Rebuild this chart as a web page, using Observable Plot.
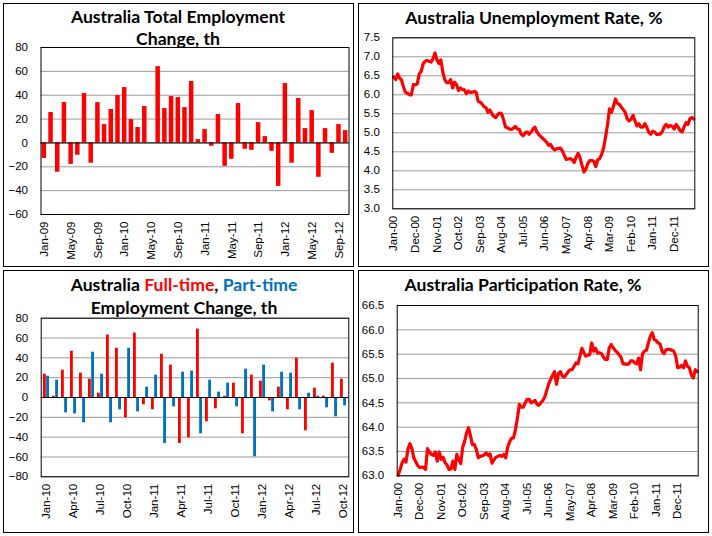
<!DOCTYPE html>
<html><head><meta charset="utf-8">
<script src="https://cdn.jsdelivr.net/npm/d3@7"></script>
<script src="https://cdn.jsdelivr.net/npm/@observablehq/plot@0.6"></script>
<style>
body{margin:0;background:#fff;}
#root{position:relative;width:712px;height:536px;overflow:hidden;background:#fff;}
.box{position:absolute;border:1px solid #000;box-sizing:border-box;}
.chart{position:absolute;}
.title{position:absolute;width:400px;text-align:center;font:bold 17.6px Lato, "Open Sans", sans-serif;line-height:22px;color:#000;white-space:nowrap;}
</style></head>
<body><div id="root"></div>
<script>
// ---------- DATA ----------
// Total employment change, th (Jan-09 .. Oct-12)
const totalEmpChange = [-13, 25.5, -24.6, 33.8, -18, -10.3, 41.4, -17, 33.8, 15.4, 28, 39.7,
  46.4, 19.6, 12.9, 30.5, 0, 64, 28.8, 38.9, 38, 29.6, 51.5, 2.8,
  11.2, -2.8, 23.8, -19.6, -13.7, 33, -5.3, -6.2, 17, 5.3, -7, -36.4,
  49.8, -17, 37.2, 12, 27.1, -28.8, 12, -8.7, 15.4, 10.3];
const totalTickLabels = ["Jan-09","May-09","Sep-09","Jan-10","May-10","Sep-10","Jan-11","May-11","Sep-11","Jan-12","May-12","Sep-12"];
const totalYTicks = [-60,-40,-20,0,20,40,60,80];

// Full-time / part-time employment change, th (Jan-10 .. Oct-12)
const fullTimeChange = [23.5, 1.3, 27.6, 46.7, 24.5, 18.5, 4.4, 63, 49.7, -20.5, 65, -7.4,
  -12.4, 43.7, 32.6, -46.4, -40.7, 69, -24.5, -11.4, 1.3, 14.5, -36.6, 22.5,
  16.5, -3.4, 10.4, -12.4, 39.7, -33.6, 9.4, 1.3, 34.6, 18.5];
const partTimeChange = [21.5, 17.5, -15.5, -16.5, -25.5, 45.7, 23.5, -25.5, -12.4, 49.7, -14.5, 10.4,
  22.5, -46.4, -9.4, 25.5, 26.6, -36.6, 17.5, 5.4, 14.5, -9.4, 28.6, -59.8,
  32.6, -14.5, 25.5, 24.5, -12.4, 4.4, 1.3, -10.4, -19.5, -8.4];
const ftptTickLabels = ["Jan-10","Apr-10","Jul-10","Oct-10","Jan-11","Apr-11","Jul-11","Oct-11","Jan-12","Apr-12","Jul-12","Oct-12"];
const ftptYTicks = [-80,-60,-40,-20,0,20,40,60,80];

// Unemployment rate, % (Jan-00 .. Oct-12)
const unemploymentRate = [
  6.47, 6.4, 6.55, 6.44, 6.38, 6.2, 6.06, 6.04, 6.0, 6.0,
  6.27, 6.26, 6.29, 6.55, 6.62, 6.82, 6.88, 6.9, 6.88, 6.86,
  6.95, 7.1, 6.92, 6.82, 6.92, 6.6, 6.4, 6.32, 6.32, 6.4,
  6.18, 6.33, 6.27, 6.11, 6.18, 6.14, 6.13, 6.03, 6.1, 6.06,
  6.07, 6.09, 6.07, 5.83, 5.81, 5.76, 5.69, 5.66, 5.54, 5.6,
  5.5, 5.43, 5.4, 5.48, 5.52, 5.5, 5.34, 5.15, 5.13, 5.1,
  5.09, 5.12, 5.17, 5.1, 5.09, 4.96, 4.92, 5.0, 5.02, 4.96,
  5.02, 5.1, 5.15, 5.02, 4.95, 4.9, 4.85, 4.8, 4.75, 4.67,
  4.69, 4.6, 4.55, 4.58, 4.59, 4.6, 4.52, 4.4, 4.3, 4.31,
  4.32, 4.29, 4.22, 4.36, 4.46, 4.34, 4.14, 3.97, 4.05, 4.2,
  4.27, 4.27, 4.25, 4.11, 4.29, 4.32, 4.43, 4.6, 4.89, 5.22,
  5.63, 5.54, 5.69, 5.89, 5.78, 5.75, 5.68, 5.61, 5.54, 5.37,
  5.31, 5.36, 5.46, 5.31, 5.18, 5.24, 5.15, 5.15, 5.24, 5.15,
  5.02, 4.96, 5.04, 5.02, 4.96, 4.96, 4.97, 5.04, 5.17, 5.22,
  5.15, 5.19, 5.17, 5.1, 5.22, 5.15, 5.06, 5.02, 5.15, 5.27,
  5.22, 5.37, 5.4, 5.36];
const unempYTicks = [3.0,3.5,4.0,4.5,5.0,5.5,6.0,6.5,7.0,7.5];

// Participation rate, % (Jan-00 .. Oct-12)
const participationRate = [
  63.01, 63.13, 63.27, 63.34, 63.28, 63.55, 63.66, 63.56, 63.37, 63.29,
  63.21, 63.17, 63.18, 63.17, 63.13, 63.56, 63.49, 63.44, 63.42, 63.49,
  63.3, 63.49, 63.34, 63.38, 63.27, 63.22, 63.13, 63.14, 63.3, 63.13,
  63.44, 63.34, 63.25, 63.58, 63.71, 63.88, 63.99, 63.82, 63.64, 63.64,
  63.54, 63.37, 63.4, 63.41, 63.43, 63.47, 63.42, 63.45, 63.26, 63.33,
  63.38, 63.4, 63.42, 63.4, 63.44, 63.37, 63.58, 63.7, 63.77, 63.78,
  63.95, 64.18, 64.47, 64.41, 64.41, 64.5, 64.57, 64.57, 64.5, 64.52,
  64.55, 64.47, 64.45, 64.5, 64.55, 64.62, 64.75, 64.89, 64.98, 65.07,
  65.14, 64.88, 65.1, 65.14, 65.05, 65.03, 65.08, 65.14, 65.18, 65.18,
  65.25, 65.32, 65.3, 65.46, 65.62, 65.53, 65.46, 65.48, 65.49, 65.73,
  65.56, 65.62, 65.52, 65.53, 65.51, 65.44, 65.39, 65.39, 65.63, 65.7,
  65.63, 65.58, 65.54, 65.49, 65.44, 65.3, 65.3, 65.29, 65.3, 65.36,
  65.36, 65.32, 65.3, 65.42, 65.18, 65.51, 65.56, 65.58, 65.73, 65.87,
  65.94, 65.8, 65.78, 65.73, 65.71, 65.56, 65.51, 65.59, 65.6, 65.6,
  65.58, 65.56, 65.46, 65.22, 65.23, 65.27, 65.22, 65.36, 65.25, 65.22,
  65.07, 65.01, 65.18, 65.14];
const partYTicks = [63.0,63.5,64.0,64.5,65.0,65.5,66.0,66.5];
const longTickLabels = ["Jan-00","Dec-00","Nov-01","Oct-02","Sep-03","Aug-04","Jul-05","Jun-06","May-07","Apr-08","Mar-09","Feb-10","Jan-11","Dec-11"];

// ---------- HELPERS ----------
const fmtMonth = d3.utcFormat("%b-%y");
function months(y, m, n) {
  const s = new Date(Date.UTC(y, m, 1));
  return d3.utcMonth.range(s, d3.utcMonth.offset(s, n)).map(fmtMonth);
}
const RED = "#FF0000", BLUE = "#0070C0", GRID = "#9a9a9a";
const tickFont = {fontFamily: "'Liberation Sans', Arial, sans-serif", fontSize: "11.5px", background: "transparent", overflow: "visible", color: "#000"};
const root = document.getElementById("root");

function place(el, x, y) {
  const wrap = document.createElement("div");
  wrap.className = "chart";
  wrap.style.left = x + "px"; wrap.style.top = y + "px";
  wrap.appendChild(el);
  root.appendChild(wrap);
}
function box(x, y, w, h) {
  const b = document.createElement("div");
  b.className = "box";
  Object.assign(b.style, {left: x + "px", top: y + "px", width: w + "px", height: h + "px"});
  root.appendChild(b);
}
function title(html, cx, top, lh) {
  const t = document.createElement("div");
  t.className = "title";
  t.innerHTML = html;
  t.style.left = (cx - 200) + "px"; t.style.top = top + "px";
  if (lh) t.style.lineHeight = lh + "px";
  root.appendChild(t);
}

const PW = 351, PH = 264;
box(3, 3, PW, PH);
box(358, 3, PW, PH);
box(3, 270, PW, PH - 1);
box(358, 270, PW, PH - 1);

// ---------- PANEL 1 ----------
{
  const m = months(2009, 0, totalEmpChange.length);
  const data = totalEmpChange.map((v, i) => ({month: m[i], value: v}));
  const chart = Plot.plot({
    width: PW, height: PH,
    marginLeft: 37.5, marginRight: 5.5, marginTop: 44, marginBottom: 53,
    style: tickFont,
    x: {type: "band", domain: m, paddingInner: 0.33, paddingOuter: 0.165},
    y: {domain: [-60, 80]},
    marks: [
      Plot.gridY(totalYTicks, {stroke: GRID, strokeOpacity: 1}),
      Plot.barY(data, {x: "month", y: "value", fill: RED}),
      Plot.ruleY([0], {stroke: "#000"}),
      Plot.frame({stroke: "#000"}),
      Plot.axisX({ticks: totalTickLabels, tickRotate: -90, tickSize: 0, tickPadding: 7, label: null}),
      Plot.axisY({ticks: totalYTicks, tickSize: 0, tickPadding: 13, label: null})
    ]
  });
  place(chart, 3, 3);
  title("Australia Total Employment<br>Change, th", 178, 6, 22);
}

// ---------- PANEL 2 ----------
{
  const m = months(2000, 0, unemploymentRate.length);
  const data = unemploymentRate.map((v, i) => ({month: m[i], value: v}));
  const chart = Plot.plot({
    width: PW, height: PH,
    marginLeft: 34.3, marginRight: 14.7, marginTop: 34.3, marginBottom: 58.7,
    style: tickFont,
    x: {type: "point", domain: m, padding: 0.5},
    y: {domain: [3, 7.5]},
    marks: [
      Plot.gridY(unempYTicks, {stroke: GRID, strokeOpacity: 1}),
      Plot.line(data, {x: "month", y: "value", stroke: RED, strokeWidth: 3.2, strokeLinejoin: "round"}),
      Plot.frame({stroke: "#000"}),
      Plot.axisX({ticks: longTickLabels, tickRotate: -90, tickSize: 0, tickPadding: 7, label: null}),
      Plot.axisY({ticks: unempYTicks, tickFormat: d3.format(".1f"), tickSize: 0, tickPadding: 13, label: null})
    ]
  });
  place(chart, 358, 3);
  title("Australia Unemployment Rate, %", 534, 7, 22);
}

// ---------- PANEL 3 ----------
{
  const m = months(2010, 0, fullTimeChange.length);
  const ml = 37.7, mr = 5.7, pad = 0.3;
  const step = (PW - ml - mr) / m.length;
  const bw = step * (1 - pad);
  const ft = fullTimeChange.map((v, i) => ({month: m[i], value: v}));
  const pt = partTimeChange.map((v, i) => ({month: m[i], value: v}));
  const chart = Plot.plot({
    width: PW, height: PH - 1,
    marginLeft: ml, marginRight: mr, marginTop: 47.7, marginBottom: 56.7,
    style: tickFont,
    x: {type: "band", domain: m, paddingInner: pad, paddingOuter: pad / 2},
    y: {domain: [-80, 80]},
    marks: [
      Plot.gridY(ftptYTicks, {stroke: GRID, strokeOpacity: 1}),
      Plot.barY(ft, {x: "month", y: "value", fill: RED, insetRight: bw / 2}),
      Plot.barY(pt, {x: "month", y: "value", fill: BLUE, insetLeft: bw / 2}),
      Plot.ruleY([0], {stroke: "#000"}),
      Plot.frame({stroke: "#000"}),
      Plot.axisX({ticks: ftptTickLabels, tickRotate: -90, tickSize: 0, tickPadding: 7, label: null}),
      Plot.axisY({ticks: ftptYTicks, tickSize: 0, tickPadding: 13, label: null})
    ]
  });
  place(chart, 3, 270);
  title(`Australia <span style="color:${RED}">Full-time</span>, <span style="color:${BLUE}">Part-time</span><br>Employment Change, th`, 184, 272.5, 23);
}

// ---------- PANEL 4 ----------
{
  const m = months(2000, 0, participationRate.length);
  const data = participationRate.map((v, i) => ({month: m[i], value: v}));
  const chart = Plot.plot({
    width: PW, height: PH - 1,
    marginLeft: 38.7, marginRight: 11.3, marginTop: 35, marginBottom: 57.7,
    style: tickFont,
    x: {type: "point", domain: m, padding: 0.5},
    y: {domain: [63, 66.5]},
    marks: [
      Plot.gridY(partYTicks, {stroke: GRID, strokeOpacity: 1}),
      Plot.line(data, {x: "month", y: "value", stroke: RED, strokeWidth: 3.2, strokeLinejoin: "round"}),
      Plot.frame({stroke: "#000"}),
      Plot.axisX({ticks: longTickLabels, tickRotate: -90, tickSize: 0, tickPadding: 7, label: null}),
      Plot.axisY({ticks: partYTicks, tickFormat: d3.format(".1f"), tickSize: 0, tickPadding: 13, label: null})
    ]
  });
  place(chart, 358, 270);
  title("Australia Participation Rate, %", 523, 274, 22);
}
</script>
</body></html>
